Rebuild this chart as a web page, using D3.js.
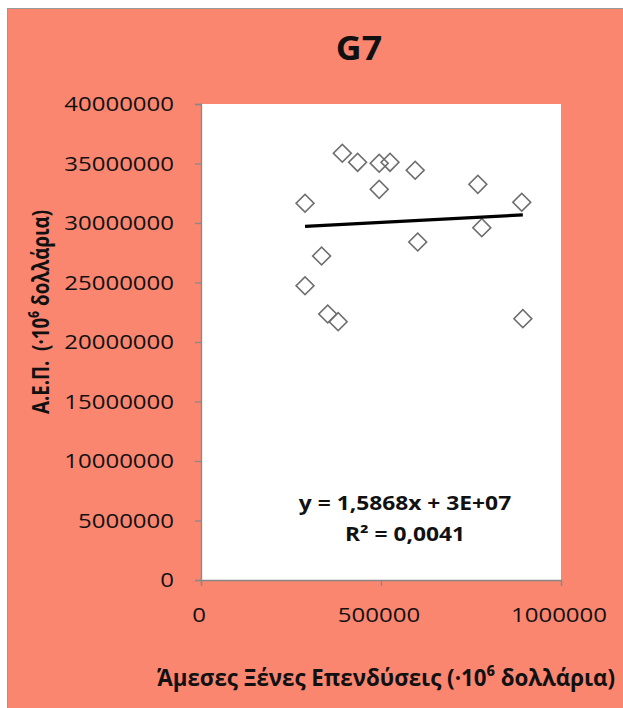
<!DOCTYPE html>
<html>
<head>
<meta charset="utf-8">
<script src="https://cdn.jsdelivr.net/npm/d3@7"></script>
<style>
  html, body { margin: 0; padding: 0; background: #fff; }
  svg { display: block; }
  text { font-family: "Open Sans", "Noto Sans", sans-serif; fill: #111; }
</style>
</head>
<body>
<script>
// foreign direct investment (x) and GDP (y), 10^6 dollars
var fdi = [392500, 435000, 495000, 525000, 595000, 495000, 289000, 769000,
           891000, 780000, 602000, 335000, 289000, 352000, 381000, 894000];
var gdp = [35860000, 35100000, 35020000, 35100000, 34430000, 32830000, 31660000, 33250000,
           31740000, 29610000, 28400000, 27230000, 24730000, 22350000, 21710000, 21960000];

var xTicks = [0, 500000, 1000000];
var yTicks = [0, 5000000, 10000000, 15000000, 20000000, 25000000, 30000000, 35000000, 40000000];

var trendSlope = 1.5868;
var trendIntercept = 29260000;

var chartTitle = "G7";
var xTitle = "Άμεσες Ξένες Επενδύσεις (·10⁶ δολλάρια)";
var yTitle = "Α.Ε.Π.  (·10⁶ δολλάρια)";
var eqLines = ["y = 1,5868x + 3E+07", "R² = 0,0041"];

var W = 623, H = 708;
var bg = "#fb8670", axisCol = "#888";

var plot = { left: 201, top: 104, right: 561, bottom: 580 };

var svg = d3.select("body").append("svg")
    .attr("width", W)
    .attr("height", H);

svg.append("rect")
    .attr("x", 7.5).attr("y", 8.5)
    .attr("width", W).attr("height", H)
    .attr("fill", bg)
    .attr("stroke", "#999");

svg.append("rect")
    .attr("x", plot.left).attr("y", plot.top)
    .attr("width", plot.right - plot.left)
    .attr("height", plot.bottom - plot.top)
    .attr("fill", "#fff");

var x = d3.scaleLinear().domain([0, 1000000]).range([plot.left, plot.right]);
var y = d3.scaleLinear().domain([0, 40000000]).range([plot.bottom, plot.top]);

// text helper; sx stretches the glyphs along the text direction
function label(tx, ty, str, anchor, size, sx, bold, rot) {
	return svg.append("text")
		.attr("transform", "translate(" + tx + "," + ty + ")" + (rot ? " rotate(" + rot + ")" : "") + " scale(" + sx + ",1)")
		.attr("text-anchor", anchor)
		.style("font-size", size + "px")
		.style("font-weight", bold ? "bold" : "normal")
		.style("white-space", "pre")
		.text(str);
}

// axes
svg.append("g")
    .attr("transform", "translate(" + plot.left + ",0)")
    .call(d3.axisLeft(y).tickValues(yTicks).tickSize(6).tickFormat(""));
svg.append("g")
    .attr("transform", "translate(0," + plot.bottom + ")")
    .call(d3.axisBottom(x).tickValues(xTicks).tickSize(6).tickFormat(""));
svg.selectAll(".domain, .tick line").attr("stroke", axisCol).attr("stroke-width", 1.3);

yTicks.forEach(function (v) {
	label(174, y(v) + 7, String(v), "end", 20, 1.2, false);
});
xTicks.forEach(function (v) {
	label(x(v) - 2, 622, String(v), "middle", 20, 1.2, false);
});

// points
svg.append("g").selectAll("path")
    .data(fdi)
    .enter()
  .append("path")
    .attr("d", d3.symbol(d3.symbolSquare, 160))
    .attr("transform", function (d, i) {
	    return "translate(" + x(d) + "," + y(gdp[i]) + ") rotate(45)";
    })
    .attr("fill", "none")
    .attr("stroke", "#6e6e6e")
    .attr("stroke-width", 1.6);

// linear trend
var xr = d3.extent(fdi);
svg.append("line")
    .attr("x1", x(xr[0])).attr("y1", y(trendSlope * xr[0] + trendIntercept))
    .attr("x2", x(xr[1])).attr("y2", y(trendSlope * xr[1] + trendIntercept))
    .attr("stroke", "#000")
    .attr("stroke-width", 3.2);

// equation
eqLines.forEach(function (s, i) {
	label(405, 510 + i * 31, s, "middle", 19, 1.2, true);
});

// titles
label(359, 60, chartTitle, "middle", 34, 1.05, true);
label(386, 686, xTitle, "middle", 24, 0.93, true);
label(49, 312, yTitle, "middle", 24, 0.78, true, -90);
</script>
</body>
</html>
